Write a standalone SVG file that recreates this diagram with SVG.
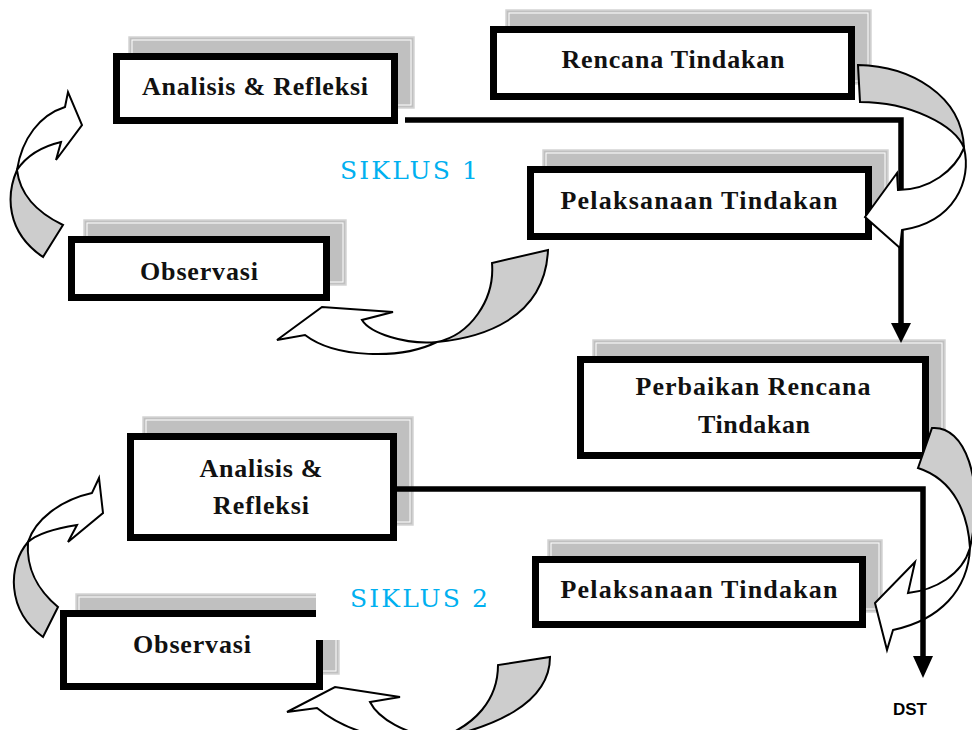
<svg xmlns="http://www.w3.org/2000/svg" width="972" height="730" viewBox="0 0 972 730">
<style>
.sh{fill:#c0c0c0;stroke:#d4d4d4;stroke-width:1.5}
.shi{fill:none;stroke:#ffffff;stroke-width:1}
.box{fill:#ffffff;stroke:#000000;stroke-width:7}
.t{font-family:"Liberation Serif",serif;font-weight:bold;font-size:26px;fill:#111111;text-anchor:middle}
.sik{font-family:"DejaVu Serif",serif;font-size:25px;fill:#00b0f0}
.front{fill:#ffffff;stroke:#000000;stroke-width:2;stroke-linejoin:miter}
.back{fill:#cdcdcd;stroke:#000000;stroke-width:2;stroke-linejoin:miter}
.ln{fill:none;stroke:#000000;stroke-width:5.5}
.ah{fill:#000000}
</style>
<rect width="972" height="730" fill="#ffffff"/>

<g id="analisis1">
<rect class="sh" x="129" y="37" width="285" height="71"/><rect class="shi" x="132" y="40" width="279" height="65"/>
<rect class="box" x="116.5" y="56.5" width="278" height="64"/>
<text class="t" x="255" y="95" textLength="226">Analisis  &amp; Refleksi</text>
</g>
<g id="rencana1">
<rect class="sh" x="506" y="10" width="365" height="74"/><rect class="shi" x="509" y="13" width="359" height="68"/>
<rect class="box" x="493.5" y="29.5" width="358" height="67"/>
<text class="t" x="673" y="68" textLength="223">Rencana Tindakan</text>
</g>
<g id="pelaksanaan1">
<rect class="sh" x="543" y="150" width="345" height="74"/><rect class="shi" x="546" y="153" width="339" height="68"/>
<rect class="box" x="530.5" y="169.5" width="338" height="67"/>
<text class="t" x="699" y="209" textLength="277">Pelaksanaan Tindakan</text>
</g>
<g id="observasi1">
<rect class="sh" x="84" y="220" width="262" height="65"/><rect class="shi" x="87" y="223" width="256" height="59"/>
<rect class="box" x="71.5" y="239.5" width="255" height="58"/>
<text class="t" x="199" y="280" textLength="118">Observasi</text>
</g>
<g id="perbaikan">
<rect class="sh" x="593" y="340" width="352" height="103"/><rect class="shi" x="596" y="343" width="346" height="97"/>
<rect class="box" x="580.5" y="359.5" width="345" height="96"/>
<text class="t" x="753" y="395" textLength="235">Perbaikan Rencana</text>
<text class="t" x="754" y="433" textLength="112">Tindakan</text>
</g>
<g id="analisis2">
<rect class="sh" x="143" y="417" width="270" height="108"/><rect class="shi" x="146" y="420" width="264" height="102"/>
<rect class="box" x="130.5" y="436.5" width="263" height="101"/>
<text class="t" x="261" y="477" textLength="123">Analisis &amp;</text>
<text class="t" x="261" y="514" textLength="96">Refleksi</text>
</g>
<g id="pelaksanaan2">
<rect class="sh" x="548" y="540" width="334" height="72"/><rect class="shi" x="551" y="543" width="328" height="66"/>
<rect class="box" x="535.5" y="559.5" width="327" height="65"/>
<text class="t" x="699" y="598" textLength="277">Pelaksanaan Tindakan</text>
</g>
<g id="observasi2">
<rect class="sh" x="76" y="594" width="263" height="80"/><rect class="shi" x="79" y="597" width="257" height="74"/>
<rect class="box" x="63.5" y="613.5" width="256" height="73"/>
<rect x="316" y="588" width="34" height="52" fill="#ffffff"/>
<text class="t" x="192" y="653" textLength="118">Observasi</text>
</g>

<g id="siklus">
<text class="sik" x="340" y="179" textLength="138">SIKLUS 1</text>
<text class="sik" x="350" y="607" textLength="138">SIKLUS 2</text>
</g>

<g id="curved-arrows-under">
<path class="back" d="M17,170 C6,195 6,232 43,257 L63,225 C38,213 20,195 17,170 Z"/>
<path class="front" d="M17,170 C22,138 40,115 65,107 L68,92 L82,125 L56,160 L61,142 C44,146 27,155 17,170 Z"/>
<path class="back" d="M28,542 C8,565 6,610 43,637 L58,607 C38,590 26,570 28,542 Z"/>
<path class="front" d="M28,542 C35,520 60,500 92,493 L99,478 L103,513 L68,542 L77,525 C58,528 38,533 28,542 Z"/>
<path class="back" d="M437,342 C480,338 545,320 548,250 L492,263 C495,300 470,335 437,342 Z"/>
<path class="front" d="M437,342 C400,360 335,358 305,335 L277,340 L322,307 L393,312 L362,320 C370,333 405,345 437,342 Z"/>
<path class="back" d="M440,738 C490,728 550,705 550,657 L498,665 C498,700 475,725 440,738 Z"/>
<path class="front" d="M440,738 C400,745 350,735 317,708 L287,712 L335,687 L400,697 L370,702 C378,718 405,735 440,738 Z"/>
<path class="back" d="M932,428 C965,425 985,480 970,548 C968,515 955,480 918,468 Z"/>
<path class="front" d="M970,548 C968,590 940,620 893,630 L887,650 L875,603 L915,562 L908,593 C935,590 962,575 970,548 Z"/>
</g>

<g id="connectors">
<polyline class="ln" points="405,120 901,120 901,326"/>
<polygon class="ah" points="891,323 911,323 901,343"/>
<polyline class="ln" points="397,489 923,489 923,658"/>
<polygon class="ah" points="913,656 933,656 923,678"/>
</g>

<g id="curved-arrow-top-right">
<path class="back" d="M858,65 C910,66 962,95 964,148 C955,125 910,102 860,102 Z"/>
<path class="front" d="M964,148 C972,180 955,222 902,230 L900,248 L865,217 L897,173 L898,190 C930,190 955,170 964,148 Z"/>
</g>

<text x="910" y="715" font-family="Liberation Sans, Arial, sans-serif" font-weight="bold" font-size="17" text-anchor="middle">DST</text>
</svg>
